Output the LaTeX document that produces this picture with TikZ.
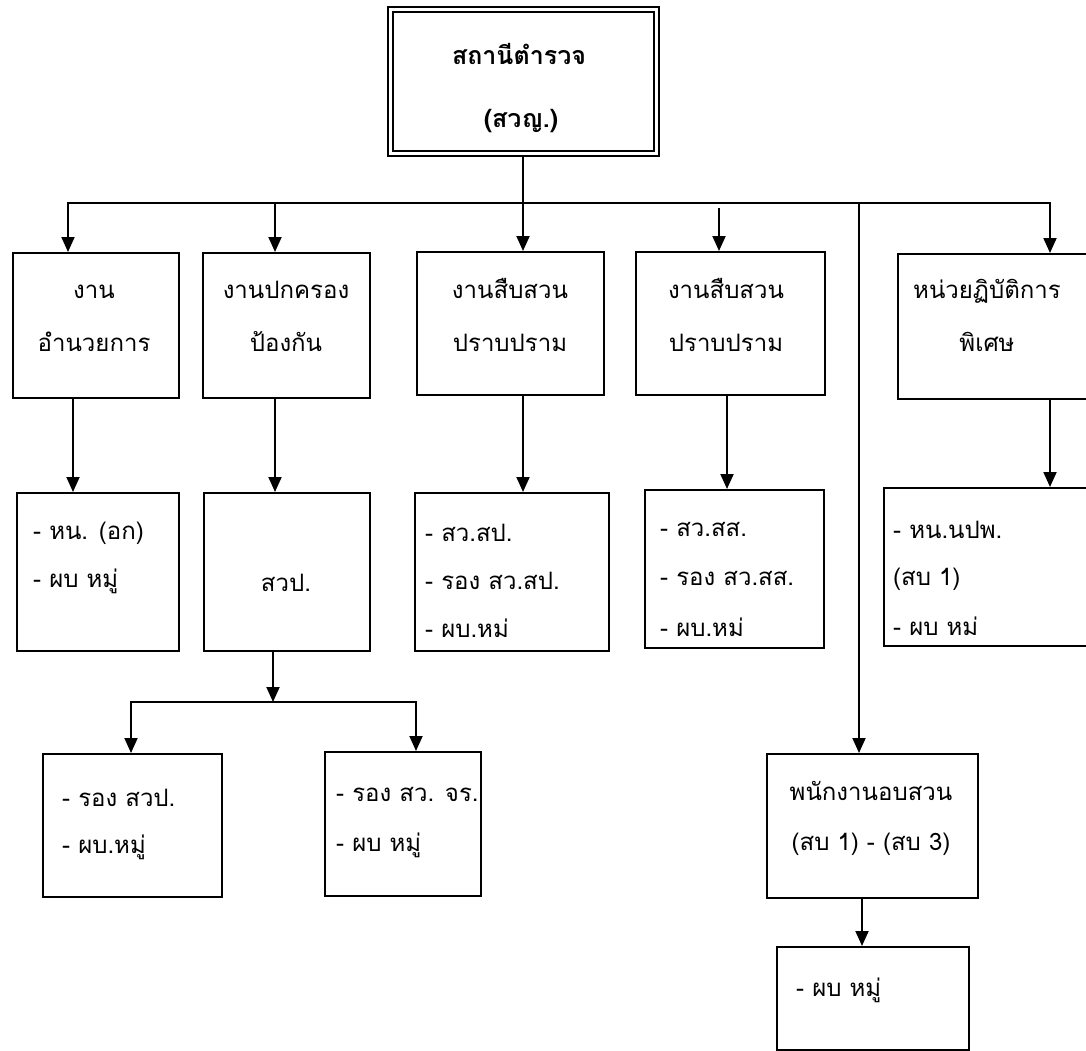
\documentclass[tikz,border=0pt]{standalone}
\usepackage{fontspec}
\newfontfamily\thaifont[Script=Thai]{Loma}
\usetikzlibrary{arrows.meta,calc}
\begin{document}
\begin{tikzpicture}[x=1pt,y=-1pt,
  box/.style={draw, line width=1.9pt, rectangle, inner sep=0pt, anchor=north west},
  conn/.style={line width=1.9pt},
  arr/.style={conn, -{Triangle[length=15pt,width=13pt]}},
  txt/.style={font=\thaifont\fontsize{24}{29}\selectfont, inner sep=0pt},
  ttl/.style={font=\thaifont\bfseries\fontsize{25}{30}\selectfont, inner sep=0pt},
]
\useasboundingbox (0,0) rectangle (1086,1051);
\clip (0,0) rectangle (1086,1051);
% column coordinates
\coordinate (c1) at (68,0);
\coordinate (cA) at (73,0);
\coordinate (cB) at (275,0);
\coordinate (cC) at (523,0);
\coordinate (c4) at (719,0);
\coordinate (cD) at (727,0);
\coordinate (cE) at (1050,0);
\coordinate (cV) at (859,0);
\coordinate (cH) at (862,0);
\coordinate (cF) at (131,0);
\coordinate (cG) at (416,0);
\coordinate (bus) at (523,203);
\coordinate (b4start) at (719,208);
\coordinate (sp) at (273,702);
% top box
\node[box, line width=2.2pt, minimum width=271pt, minimum height=149pt] (top) at (387,6) {};
\node[draw, line width=1.4pt, inner sep=0pt, minimum width=261pt, minimum height=139pt] (topin) at (top.center) {};
\node[ttl, anchor=base] (tt1) at (519,65) {สถานีตำรวจ};
\node[ttl, anchor=base] (tt2) at (521,128) {(สวญ.)};
% first row boxes
\node[box, minimum width=166pt, minimum height=145pt] (b1) at (12,252) {};
\node[box, minimum width=167pt, minimum height=145pt] (b2) at (202,252) {};
\node[box, minimum width=187pt, minimum height=143pt] (b3) at (416,251) {};
\node[box, minimum width=189pt, minimum height=143pt] (b4) at (635,251) {};
\node[box, minimum width=220pt, minimum height=145pt] (b5) at (897,253) {};
% second row boxes
\node[box, minimum width=162pt, minimum height=158pt] (ba) at (16,492) {};
\node[box, minimum width=166pt, minimum height=158pt] (bb) at (203,492) {};
\node[box, minimum width=194pt, minimum height=158pt] (bc) at (414,492) {};
\node[box, minimum width=179pt, minimum height=158pt] (bd) at (644,489) {};
\node[box, minimum width=220pt, minimum height=158pt] (be) at (883,487) {};
% third row
\node[box, minimum width=179pt, minimum height=143pt] (bf) at (42,753) {};
\node[box, minimum width=156pt, minimum height=144pt] (bg) at (324,751) {};
\node[box, minimum width=211pt, minimum height=144pt] (bh) at (766,753) {};
\node[box, minimum width=192pt, minimum height=103pt] (bi) at (776,946) {};
% texts
\node[txt, anchor=base] (x1a) at (94,298) {งาน};
\node[txt, anchor=base] (x1b) at (94,351) {อำนวยการ};
\node[txt, anchor=base] (x2a) at (286,298) {งานปกครอง};
\node[txt, anchor=base] (x2b) at (286,351) {ป้องกัน};
\node[txt, anchor=base] (x3a) at (510,298) {งานสืบสวน};
\node[txt, anchor=base] (x3b) at (510,351) {ปราบปราม};
\node[txt, anchor=base] (x4a) at (726,298) {งานสืบสวน};
\node[txt, anchor=base] (x4b) at (726,351) {ปราบปราม};
\node[txt, anchor=base] (x5a) at (987,298) {หน่วยฏิบัติการ};
\node[txt, anchor=base] (x5b) at (987,351) {พิเศษ};
\node[txt, anchor=base west] (xaa) at (33,539) {- หน. (อก)};
\node[txt, anchor=base west] (xab) at (33,587) {- ผบ หมู่};
\node[txt, anchor=base] (xba) at (286,591) {สวป.};
\node[txt, anchor=base west] (xca) at (425,541) {- สว.สป.};
\node[txt, anchor=base west] (xcb) at (425,589) {- รอง สว.สป.};
\node[txt, anchor=base west] (xcc) at (425,637) {- ผบ.หม่};
\node[txt, anchor=base west] (xda) at (660,536) {- สว.สส.};
\node[txt, anchor=base west] (xdb) at (660,585) {- รอง สว.สส.};
\node[txt, anchor=base west] (xdc) at (660,636) {- ผบ.หม่};
\node[txt, anchor=base west] (xea) at (893,538) {- หน.นปพ.};
\node[txt, anchor=base west] (xeb) at (893,585) {(สบ 1)};
\node[txt, anchor=base west] (xec) at (893,635) {- ผบ หม่};
\node[txt, anchor=base west] (xfa) at (62,806) {- รอง สวป.};
\node[txt, anchor=base west] (xfb) at (62,853) {- ผบ.หมู่};
\node[txt, anchor=base west] (xga) at (336,801) {- รอง สว. จร.};
\node[txt, anchor=base west] (xgb) at (336,851) {- ผบ หมู่};
\node[txt, anchor=base] (xha) at (871,800) {พนักงานอบสวน};
\node[txt, anchor=base] (xhb) at (871,850) {(สบ 1) - (สบ 3)};
\node[txt, anchor=base west] (xia) at (796,996) {- ผบ หมู่};
% connectors
\draw[conn] (top.south -| cC) -- (bus);
\draw[arr] (bus) -| (b1.north -| c1);
\draw[arr] (bus) -| (b2.north -| cB);
\draw[arr] (bus) -- (b3.north -| cC);
\draw[arr] (bus) -| (b5.north -| cE);
\draw[arr] (bus) -| (bh.north -| cV);
\draw[arr] (b4start) -- (b4.north -| c4);
\draw[arr] (b1.south -| cA) -- (ba.north -| cA);
\draw[arr] (b2.south -| cB) -- (bb.north -| cB);
\draw[arr] (b3.south -| cC) -- (bc.north -| cC);
\draw[arr] (b4.south -| cD) -- (bd.north -| cD);
\draw[arr] (b5.south -| cE) -- (be.north -| cE);
\draw[arr] (bb.south -| sp) -- (sp);
\draw[arr] (sp) -| (bf.north -| cF);
\draw[arr] (sp) -| (bg.north -| cG);
\draw[arr] (bh.south -| cH) -- (bi.north -| cH);
\end{tikzpicture}
\end{document}
